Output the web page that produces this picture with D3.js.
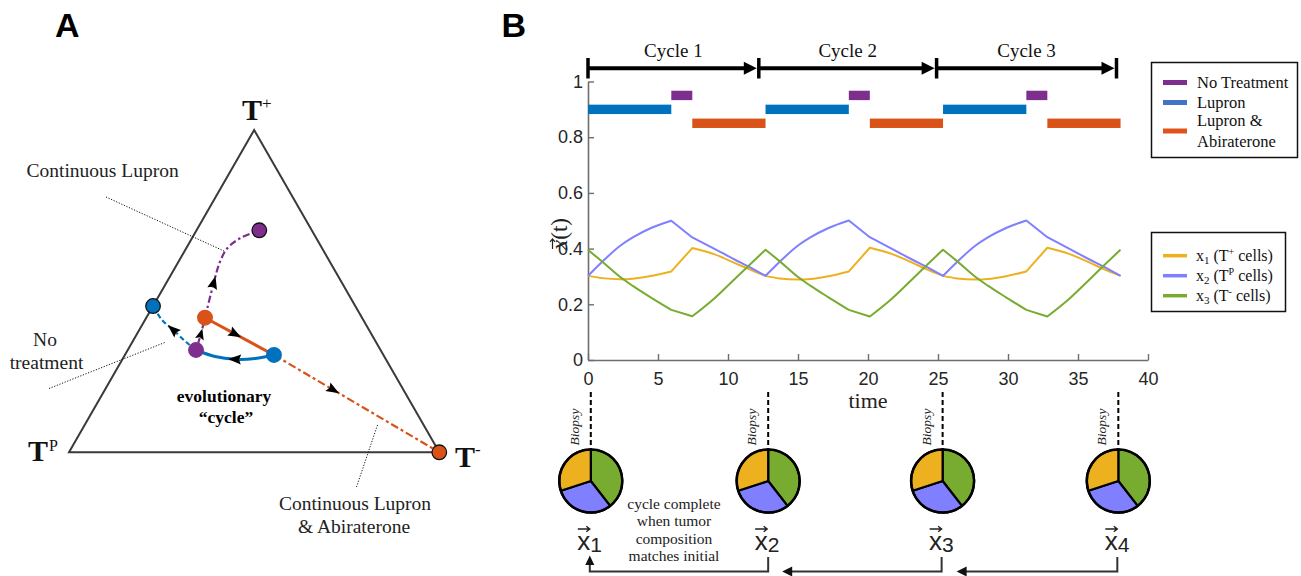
<!DOCTYPE html>
<html><head><meta charset="utf-8">
<script src="https://cdn.jsdelivr.net/npm/d3@7"></script>
<style>body{margin:0;background:#fff} svg{display:block}</style>
</head><body><svg id="c" width="1301" height="576"></svg>
<script>
// ---------------- data ----------------
const times = [0, 1, 2.3, 3.2, 4.5, 5.95, 7.45, 9, 10.5, 11.4,
  12.68, 13.68, 14.98, 15.88, 17.18, 18.63, 20.13, 21.68, 23.18, 24.08,
  25.36, 26.36, 27.66, 28.56, 29.86, 31.31, 32.81, 34.36, 35.86, 36.76, 38.04];
const x1Values = [0.303, 0.294, 0.290, 0.292, 0.302, 0.318, 0.402, 0.380, 0.348, 0.328,
  0.302, 0.293, 0.289, 0.291, 0.301, 0.318, 0.403, 0.381, 0.349, 0.328,
  0.302, 0.293, 0.289, 0.291, 0.301, 0.318, 0.403, 0.381, 0.349, 0.328, 0.302];
const x2Values = [0.302, 0.352, 0.410, 0.440, 0.474, 0.500, 0.440, 0.400, 0.360, 0.337,
  0.302, 0.352, 0.410, 0.440, 0.474, 0.501, 0.441, 0.400, 0.360, 0.337,
  0.302, 0.352, 0.410, 0.440, 0.474, 0.501, 0.441, 0.400, 0.360, 0.337, 0.302];
const x3Values = [0.395, 0.354, 0.298, 0.266, 0.224, 0.180, 0.157, 0.220, 0.292, 0.335,
  0.396, 0.355, 0.299, 0.267, 0.225, 0.180, 0.156, 0.219, 0.291, 0.335,
  0.396, 0.355, 0.299, 0.267, 0.225, 0.180, 0.156, 0.219, 0.291, 0.335, 0.396];
const seriesNames = ["x1", "x2", "x3"];

const lupronPeriods = [[0, 5.95], [12.68, 18.63], [25.36, 31.31]];
const noTreatmentPeriods = [[5.95, 7.45], [18.63, 20.13], [31.31, 32.81]];
const comboPeriods = [[7.45, 12.68], [20.13, 25.36], [32.81, 38.04]];
const noTreatmentLevel = 0.95, lupronLevel = 0.9, comboLevel = 0.85;

const xTicks = [0, 5, 10, 15, 20, 25, 30, 35, 40];
const yTicks = [0, 0.2, 0.4, 0.6, 0.8, 1];
const cycleLabels = ["Cycle 1", "Cycle 2", "Cycle 3"];
const cycleBounds = [0, 12.2, 24.9, 37.75];

const biopsyTimes = [0.2, 12.87, 25.33, 37.88];
const biopsyX1 = [0.300, 0.300, 0.300, 0.300];
const biopsyX2 = [0.305, 0.305, 0.305, 0.305];
const biopsyX3 = [0.395, 0.395, 0.395, 0.395];
const biopsyLabels = ["1", "2", "3", "4"];

// panel A compositions [x1 (T+), x2 (TP), x3 (T-)]
const cycleLupron = [[0.302, 0.2955, 0.4025], [0.291, 0.352, 0.357], [0.2886, 0.4074, 0.304], [0.2972, 0.4571, 0.2457], [0.3174, 0.4983, 0.1843]];
const cycleNoTreatment = [[0.3174, 0.4983, 0.1843], [0.365, 0.462, 0.173], [0.4176, 0.4239, 0.1585]];
const cycleCombo = [[0.4176, 0.4239, 0.1585], [0.302, 0.2955, 0.4025]];
const contLupron = [[0.3174, 0.4983, 0.1843], [0.3422, 0.513, 0.145], [0.3795, 0.5286, 0.0919], [0.4105, 0.544, 0.046], [0.4539, 0.5461, 0]];
const contNoTreatment = [[0.4176, 0.4239, 0.1585], [0.5293, 0.3438, 0.1269], [0.5914, 0.2965, 0.1121], [0.633, 0.256, 0.111], [0.664, 0.2062, 0.1298], [0.6888, 0.1417, 0.1695]];
const contCombo = [[0.302, 0.2955, 0.4025], [0, 0, 1]];
const vertices = [[1, 0, 0], [0, 1, 0], [0, 0, 1]];

// ---------------- colours ----------------
const cPurple = "#7E2F8E", cBlue = "#0072BD", cOrange = "#D95319";
const cX1 = "#EDB120", cX2 = "#7F7FFF", cX3 = "#77AC30";
const serif = "'Liberation Serif', 'Times New Roman', serif";
const sans = "'Liberation Sans', Arial, sans-serif";

const svg = d3.select("#c");

// ---------------- panel letters ----------------
svg.append("text").attr("x", 55).attr("y", 36.5).text("A")
  .attr("font-family", sans).attr("font-weight", "bold").attr("font-size", 34);
svg.append("text").attr("x", 501.5).attr("y", 36.5).text("B")
  .attr("font-family", sans).attr("font-weight", "bold").attr("font-size", 34);

// ---------------- Panel A: ternary ----------------
const ternX = d3.scaleLinear().domain([0, 1]).range([69, 439.3]);
const ternY = d3.scaleLinear().domain([0, 1]).range([452.3, 130]);
const proj = d => [ternX(d[2] + d[0] / 2), ternY(d[0])];
const gA = svg.append("g");

gA.append("path").attr("d", "M" + vertices.map(proj).join("L") + "Z")
  .attr("fill", "none").attr("stroke", "#3a3a3a").attr("stroke-width", 2);

// leader lines
const leader = (x1, y1, x2, y2) => gA.append("line").attr("x1", x1).attr("y1", y1).attr("x2", x2).attr("y2", y2)
  .attr("stroke", "#111").attr("stroke-width", 1).attr("stroke-dasharray", "1.2,1.6");
leader(106, 197, 225, 251.5);
leader(49, 388.5, 166, 342);
leader(377.5, 425, 356.5, 487);

const lineT = d3.line().x(d => proj(d)[0]).y(d => proj(d)[1]).curve(d3.curveCatmullRom);
function tpath(data, color, width, dash) {
  const p = gA.append("path").datum(data).attr("d", lineT).attr("fill", "none")
    .attr("stroke", color).attr("stroke-width", width);
  if (dash) p.attr("stroke-dasharray", dash);
  return p.node();
}
function arrowAt(g, node, frac, len = 13, half = 5) {
  const L = node.getTotalLength();
  const p = node.getPointAtLength(L * frac);
  const a = node.getPointAtLength(Math.max(0, L * frac - 2));
  const b = node.getPointAtLength(Math.min(L, L * frac + 2));
  const ang = Math.atan2(b.y - a.y, b.x - a.x) * 180 / Math.PI;
  g.append("path").attr("d", `M${len / 2},0L${-len / 2},${-half}L${-len / 2 + 2},0L${-len / 2},${half}Z`)
    .attr("transform", `translate(${p.x},${p.y}) rotate(${ang})`).attr("fill", "#000");
}
const pContLupron = tpath(contLupron, cBlue, 2.2, "5,3");
const pContNT = tpath(contNoTreatment, cPurple, 2.2, "7,3,2.5,3");
const pContCombo = tpath(contCombo, cOrange, 2.2, "8,3,3,3");
const pCycleNT = tpath(cycleNoTreatment, cPurple, 2.2, "5,2.5");
const pCycleLup = tpath(cycleLupron, cBlue, 3, null);
const pCycleCombo = tpath(cycleCombo, cOrange, 3, null);

arrowAt(gA, pContLupron, 0.5);
arrowAt(gA, pContNT, 0.33);
arrowAt(gA, pContCombo, 0.36);
arrowAt(gA, pCycleNT, 0.5, 11, 4.5);
arrowAt(gA, pCycleLup, 0.5);
arrowAt(gA, pCycleCombo, 0.44);

const dots = [
  {c: contLupron[contLupron.length - 1], col: cBlue, s: true},
  {c: contNoTreatment[contNoTreatment.length - 1], col: cPurple, s: true},
  {c: contCombo[1], col: cOrange, s: true},
  {c: cycleLupron[0], col: cBlue, s: false},
  {c: cycleNoTreatment[0], col: cPurple, s: false},
  {c: cycleCombo[0], col: cOrange, s: false}
];
gA.selectAll("circle.dot").data(dots).join("circle").attr("class", "dot")
  .attr("cx", d => proj(d.c)[0]).attr("cy", d => proj(d.c)[1]).attr("r", 7.3)
  .attr("fill", d => d.col).attr("stroke", d => d.s ? "#111" : d.col).attr("stroke-width", 1.3);

// vertex labels
const vl = gA.append("g").attr("font-family", serif).attr("fill", "#111");
let t = vl.append("text").attr("x", 242).attr("y", 119.5).attr("font-size", 30).attr("font-weight", "bold");
t.append("tspan").text("T");
t.append("tspan").text("+").attr("font-size", 17).attr("font-weight", "normal").attr("dy", -11);
t = vl.append("text").attr("x", 28).attr("y", 460.5).attr("font-size", 30).attr("font-weight", "bold");
t.append("tspan").text("T");
t.append("tspan").text("P").attr("font-size", 16).attr("font-weight", "normal").attr("dy", -10).attr("dx", 1);
t = vl.append("text").attr("x", 455).attr("y", 466.5).attr("font-size", 30).attr("font-weight", "bold");
t.append("tspan").text("T");
t.append("tspan").text("-").attr("font-size", 17).attr("font-weight", "normal").attr("dy", -12);

const ta = gA.append("g").attr("font-family", serif).attr("fill", "#222").attr("font-size", 19.5);
ta.append("text").attr("x", 26.5).attr("y", 176.5).text("Continuous Lupron");
ta.append("text").attr("x", 45).attr("y", 346).attr("text-anchor", "middle").text("No");
ta.append("text").attr("x", 46.5).attr("y", 368.5).attr("text-anchor", "middle").text("treatment");
ta.append("text").attr("x", 355).attr("y", 510).attr("text-anchor", "middle").text("Continuous Lupron");
ta.append("text").attr("x", 354).attr("y", 532.5).attr("text-anchor", "middle").text("& Abiraterone");
ta.append("text").attr("x", 224).attr("y", 401.5).attr("text-anchor", "middle").attr("font-weight", "bold").attr("font-size", 17.5).attr("fill", "#000").text("evolutionary");
ta.append("text").attr("x", 226).attr("y", 422.5).attr("text-anchor", "middle").attr("font-weight", "bold").attr("font-size", 17.5).attr("fill", "#000").text("\u201Ccycle\u201D");

// ---------------- Panel B: time series ----------------
const x = d3.scaleLinear().domain([0, 40]).range([588, 1148]);
const y = d3.scaleLinear().domain([0, 1]).range([360, 81.5]);
const gB = svg.append("g");

const ax = gB.append("g").attr("transform", "translate(0,360)")
  .call(d3.axisBottom(x).tickValues(xTicks).tickSizeInner(-6).tickSizeOuter(0).tickPadding(12).tickFormat(d3.format("d")));
const ay = gB.append("g").attr("transform", "translate(588,0)")
  .call(d3.axisLeft(y).tickValues(yTicks).tickSizeInner(-6).tickSizeOuter(0).tickPadding(5).tickFormat(d => d === 0 || d === 1 ? d3.format("d")(d) : d3.format(".1f")(d)));
[ax, ay].forEach(a => {
  a.select(".domain").attr("stroke", "#6e6e6e").attr("stroke-width", 1.6);
  a.selectAll(".tick line").attr("stroke", "#6e6e6e").attr("stroke-width", 1.4);
  a.selectAll(".tick text").attr("font-family", sans).attr("font-size", 18).attr("fill", "#262626");
});

// treatment bars
function bars(periods, level, color) {
  gB.selectAll(null).data(periods).join("rect")
    .attr("x", d => x(d[0])).attr("width", d => x(d[1]) - x(d[0]))
    .attr("y", y(level) - 4.7).attr("height", 9.4).attr("fill", color);
}
bars(lupronPeriods, lupronLevel, cBlue);
bars(noTreatmentPeriods, noTreatmentLevel, cPurple);
bars(comboPeriods, comboLevel, cOrange);

// series lines: smooth within each treatment phase, sharp corners at switches
const switches = Array.from(new Set([...lupronPeriods, ...noTreatmentPeriods, ...comboPeriods].flat())).sort((a, b) => a - b);
const series = [x1Values, x2Values, x3Values];
const sColors = [cX1, cX2, cX3];
const segLine = d3.line().x(d => x(d[0])).y(d => y(d[1])).curve(d3.curveMonotoneX);
series.forEach((vals, k) => {
  const pts = times.map((tt, i) => [tt, vals[i]]);
  let dStr = "";
  for (let s = 0; s < switches.length - 1; s++) {
    const seg = pts.filter(p => p[0] >= switches[s] - 1e-9 && p[0] <= switches[s + 1] + 1e-9);
    if (seg.length < 2) continue;
    let part = segLine(seg);
    if (dStr) part = part.replace(/^M[^A-Za-z]*/, m => "L" + m.slice(1));
    dStr += part;
  }
  gB.append("path").attr("d", dStr).attr("fill", "none")
    .attr("stroke", sColors[k]).attr("stroke-width", 2).attr("stroke-linejoin", "round");
});

// cycle arrows
const gc = gB.append("g");
for (let i = 0; i < cycleLabels.length; i++) {
  const xa = x(cycleBounds[i]), xb = x(cycleBounds[i + 1]);
  gc.append("line").attr("x1", xa).attr("x2", xb - 12).attr("y1", 68.3).attr("y2", 68.3)
    .attr("stroke", "#000").attr("stroke-width", 4);
  gc.append("path").attr("d", `M${xb - 2},68.3L${xb - 15},61.8L${xb - 15},74.8Z`).attr("fill", "#000");
  gc.append("text").attr("x", (xa + xb) / 2).attr("y", 56.5).attr("text-anchor", "middle")
    .attr("font-family", serif).attr("font-size", 19).attr("fill", "#111").text(cycleLabels[i]);
}
cycleBounds.forEach(b => gc.append("line").attr("x1", x(b)).attr("x2", x(b)).attr("y1", 58).attr("y2", 78.5)
  .attr("stroke", "#000").attr("stroke-width", 3.5));

// axis labels
gB.append("text").attr("x", x(20)).attr("y", 407.5).attr("text-anchor", "middle")
  .attr("font-family", serif).attr("font-size", 22).attr("fill", "#222").text("time");
const gy = gB.append("g").attr("transform", "translate(567,234) rotate(-90)");
const yl = gy.append("text").attr("font-family", serif).attr("font-size", 23).attr("fill", "#222");
yl.append("tspan").text("x").attr("font-style", "italic");
yl.append("tspan").text("(t)");
const wAll = yl.node().getComputedTextLength();
yl.attr("x", -wAll / 2);
gy.append("path").attr("d", `M${-wAll / 2 + 1},-14.5H${-wAll / 2 + 11}M${-wAll / 2 + 8},-17L${-wAll / 2 + 11},-14.5L${-wAll / 2 + 8},-12`)
  .attr("fill", "none").attr("stroke", "#222").attr("stroke-width", 1.2);

// legends
const lg1 = gB.append("g").attr("font-family", serif).attr("font-size", 16.5).attr("fill", "#111");
lg1.append("rect").attr("x", 1151.5).attr("y", 62.5).attr("width", 146).attr("height", 95)
  .attr("fill", "#fff").attr("stroke", "#111").attr("stroke-width", 1.5);
const lg1Items = [{c: cPurple, y: 82.5, lines: ["No Treatment"], ty: [87.5]},
  {c: "#4472C4", y: 102.5, lines: ["Lupron"], ty: [107.5]},
  {c: "#E0531E", y: 131, lines: ["Lupron &", "Abiraterone"], ty: [125.5, 146.5]}];
lg1Items.forEach(d => {
  lg1.append("line").attr("x1", 1163).attr("x2", 1187).attr("y1", d.y).attr("y2", d.y).attr("stroke", d.c).attr("stroke-width", 5);
  d.lines.forEach((s, j) => lg1.append("text").attr("x", 1197).attr("y", d.ty[j]).text(s));
});
const lg2 = gB.append("g").attr("font-family", serif).attr("font-size", 16).attr("fill", "#111");
lg2.append("rect").attr("x", 1151.5).attr("y", 232.5).attr("width", 134).attr("height", 79)
  .attr("fill", "#fff").attr("stroke", "#111").attr("stroke-width", 1.5);
const supers = ["+", "P", "-"];
seriesNames.forEach((nm, k) => {
  const yy = 255.7 + k * 20;
  lg2.append("line").attr("x1", 1163).attr("x2", 1187).attr("y1", yy).attr("y2", yy).attr("stroke", sColors[k]).attr("stroke-width", 3.5);
  const tx = lg2.append("text").attr("x", 1196).attr("y", yy + 5);
  tx.append("tspan").text("x");
  tx.append("tspan").text(String(k + 1)).attr("font-size", 11).attr("dy", 3);
  tx.append("tspan").text(" (T").attr("dy", -3);
  tx.append("tspan").text(supers[k]).attr("font-size", 10).attr("dy", -6);
  tx.append("tspan").text(" cells)").attr("dy", 6);
});

// biopsies and pies
const pie = d3.pie().sort(null).value(d => d);
const arc = d3.arc().innerRadius(0).outerRadius(31.5);
biopsyTimes.forEach((bt, i) => {
  const cx = x(bt), cy = 481;
  gB.append("line").attr("x1", cx).attr("x2", cx).attr("y1", 392).attr("y2", cy - 31.5)
    .attr("stroke", "#000").attr("stroke-width", 2).attr("stroke-dasharray", "5,3");
  gB.append("text").attr("transform", `translate(${cx - 12},427) rotate(-90)`).attr("text-anchor", "middle")
    .attr("font-family", serif).attr("font-style", "italic").attr("font-size", 13.5).attr("fill", "#222").text("Biopsy");
  const gp = gB.append("g").attr("transform", `translate(${cx},${cy})`);
  gp.selectAll("path").data(pie([biopsyX3[i], biopsyX2[i], biopsyX1[i]])).join("path")
    .attr("d", arc).attr("fill", (d, j) => [cX3, cX2, cX1][j]).attr("stroke", "#000").attr("stroke-width", 2.2).attr("stroke-linejoin", "round");
  gp.append("circle").attr("r", 31.5).attr("fill", "none").attr("stroke", "#000").attr("stroke-width", 2.5);
  // vector label
  const lt = gB.append("text").attr("x", cx - 13.5).attr("y", 550).attr("font-family", sans).attr("font-size", 26).attr("fill", "#222");
  lt.append("tspan").text("x");
  lt.append("tspan").text(biopsyLabels[i]).attr("font-size", 21).attr("dy", 2);
  gB.append("path").attr("d", `M${cx - 13},529H${cx - 1}M${cx - 4.5},526.2L${cx - 1},529L${cx - 4.5},531.8`)
    .attr("fill", "none").attr("stroke", "#222").attr("stroke-width", 1.4);
});

// cycle complete note
const note = ["cycle complete", "when tumor", "composition", "matches initial"];
note.forEach((s, i) => gB.append("text").attr("x", 674).attr("y", 509 + i * 17.3).attr("text-anchor", "middle")
  .attr("font-family", serif).attr("font-size", 15.5).attr("fill", "#222").text(s));

// connectors
const bx = biopsyTimes.map(b => x(b));
const conn = gB.append("g").attr("fill", "none").attr("stroke", "#333").attr("stroke-width", 2);
conn.append("path").attr("d", `M${bx[1]},557V571.5H${bx[0] - 1}V563`);
gB.append("path").attr("d", `M${bx[0] - 1},555.5L${bx[0] - 5.5},565L${bx[0] + 3.5},565Z`).attr("fill", "#111");
[[2, 1], [3, 2]].forEach(([a, b]) => {
  conn.append("path").attr("d", `M${bx[a] - 1},557V571.5H${bx[b] + 22}`);
  gB.append("path").attr("d", `M${bx[b] + 14},571.5L${bx[b] + 24},566.5L${bx[b] + 24},576.5Z`).attr("fill", "#111");
});
</script></body></html>
